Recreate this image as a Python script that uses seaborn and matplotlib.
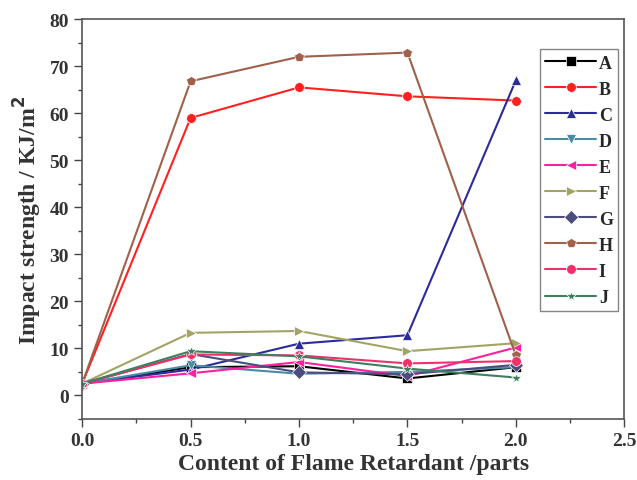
import matplotlib
matplotlib.use("Agg")
import matplotlib.pyplot as plt
import numpy as np
import pandas as pd
import seaborn as sns
from matplotlib.ticker import AutoMinorLocator

# 阻燃剂含量 (parts)
content = [0.0, 0.5, 1.0, 1.5, 2.0]

series_names = ["A", "B", "C", "D", "E", "F", "G", "H", "I", "J"]
A = [2.5, 6.0, 6.2, 3.6, 6.0]
B = [2.5, 59.0, 65.5, 63.6, 62.7]
C = [2.5, 5.5, 11.0, 12.8, 67.0]
D = [2.5, 6.4, 4.6, 5.0, 6.0]
E = [2.5, 4.7, 7.1, 4.1, 10.2]
F = [2.5, 13.3, 13.7, 9.4, 11.1]
G = [2.5, 8.8, 4.9, 4.5, 6.5]
H = [2.5, 66.8, 72.0, 72.9, 8.5]
I = [2.5, 8.7, 8.5, 6.8, 7.3]
J = [2.5, 9.4, 8.3, 5.7, 3.8]
values = [A, B, C, D, E, F, G, H, I, J]

colors = ["#000000", "#FF2020", "#2B2B9C", "#4A8CA6", "#FF1FA0",
          "#A3A368", "#4C4C7E", "#A0604A", "#F0306A", "#3C8060"]
markers = ["s", "o", "^", "v", "<", ">", "D", "p", "o", "*"]

df = pd.DataFrame({
    "content": np.tile(content, len(series_names)),
    "value": np.concatenate(values),
    "sample": np.repeat(series_names, len(content)),
})

sns.set_style("ticks")
plt.rcParams["font.family"] = ["Liberation Serif", "DejaVu Serif"]
plt.rcParams["font.weight"] = "bold"

fig = plt.figure(figsize=(6.37, 4.81), dpi=100)
ax = fig.add_axes([0.129, 0.127, 0.851, 0.831])

sns.lineplot(
    data=df, x="content", y="value", hue="sample", style="sample",
    palette=dict(zip(series_names, colors)),
    markers=dict(zip(series_names, markers)),
    dashes=False, markersize=7, linewidth=1.5, markeredgewidth=0.5,
    ax=ax,
)

ax.set_xlim(0, 2.5)
ax.set_ylim(-5, 80)
ax.set_xticks([0.0, 0.5, 1.0, 1.5, 2.0, 2.5])
ax.set_yticks(range(0, 81, 10))
ax.xaxis.set_minor_locator(AutoMinorLocator(2))
ax.yaxis.set_minor_locator(AutoMinorLocator(2))
ax.tick_params(which="major", length=6, width=1, colors="#444444", labelsize=14, labelcolor="#333333")
ax.tick_params(which="minor", length=3, width=1, colors="#444444")
for lbl in ax.get_xticklabels() + ax.get_yticklabels():
    lbl.set_fontweight("bold")
for sp in ax.spines.values():
    sp.set_color("#555555")
    sp.set_linewidth(1.2)

ax.set_xlabel("Content of Flame Retardant /parts", fontsize=17, fontweight="bold", color="#333333", labelpad=3)
ax.set_ylabel("Impact strength / KJ/m$^\\mathbf{2}$", fontsize=17, fontweight="bold", color="#333333", labelpad=4)

leg = ax.legend(loc="upper right", bbox_to_anchor=(0.989, 0.925), borderaxespad=0,
                frameon=True, fancybox=False,
                handlelength=2.8, handletextpad=0.15, labelspacing=0.5, borderpad=0.3,
                markerscale=1.0, prop={"weight": "bold", "size": 13})
leg.get_frame().set_edgecolor("#666666")
leg.get_frame().set_linewidth(1.0)

fig.savefig("out.png", dpi=100)
